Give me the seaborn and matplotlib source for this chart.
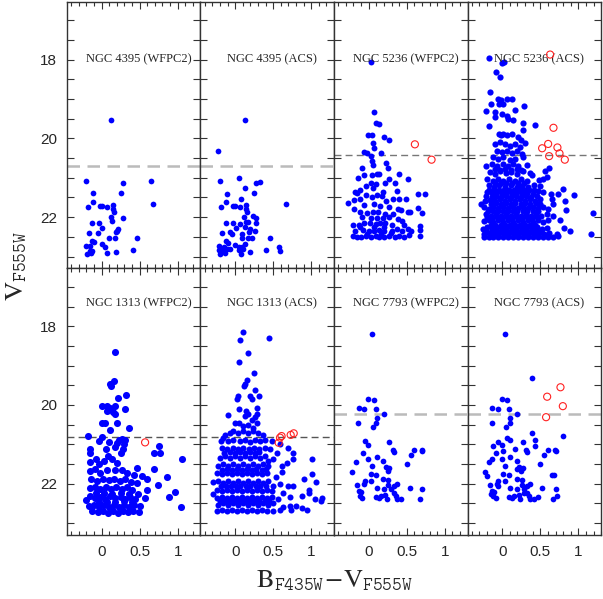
import matplotlib
matplotlib.use("Agg")
import matplotlib.pyplot as plt
import seaborn as sns
from matplotlib.ticker import MultipleLocator, FuncFormatter

# ---------------- data (color B-V, magnitude V) ----------------
n4395_wfpc2_x = [0.129, -0.20, 0.65, 0.28, -0.108, 0.256, -0.117, 0.677, -0.178, -0.025, 0.0, 0.076, 0.155,
                 0.155, 0.16, 0.129, 0.28, 0.134, -0.12, -0.033, 0.01, -0.165, -0.05, 0.208, 0.22, 0.19, 0.094,
                 0.173, 0.46, -0.13, -0.095, 0.0, 0.046, -0.21, -0.147, -0.155, -0.12, -0.19, -0.138, 0.076,
                 0.195, 0.41]
n4395_wfpc2_y = [19.54, 21.08, 21.07, 21.13, 21.39, 21.39, 21.62, 21.66, 21.75, 21.72, 21.71, 21.74, 21.69,
                 21.79, 21.86, 21.99, 22.03, 22.11, 22.14, 22.15, 22.27, 22.40, 22.41, 22.34, 22.31, 22.38, 22.53,
                 22.54, 22.53, 22.60, 22.64, 22.69, 22.76, 22.73, 22.74, 22.85, 22.86, 22.93, 22.91, 22.92,
                 22.89, 22.84]

n4395_acs_x = [0.125, -0.22, -0.204, 0.054, 0.129, 0.278, 0.326, -0.108, 0.072, 0.252, -0.117, -0.187, -0.025,
               -0.003, 0.068, 0.146, 0.146, 0.151, 0.668, 0.23, 0.275, 0.12, 0.137, 0.173, -0.125, -0.03, 0.278,
               0.01, 0.068, 0.125, 0.2, 0.26, 0.186, -0.174, -0.064, -0.037, 0.09, 0.085, 0.169, 0.225, 0.46,
               -0.125, -0.095, 0.133, 0.002, 0.05, 0.09, -0.21, -0.143, -0.218, -0.187, -0.147, -0.112, -0.068,
               -0.2, -0.134, 0.072, 0.19, 0.40, 0.57, 0.59, 0.107, 0.055]
n4395_acs_y = [19.54, 20.33, 21.08, 21.0, 21.25, 21.13, 21.10, 21.40, 21.53, 21.39, 21.62, 21.75, 21.71,
               21.71, 21.75, 21.70, 21.80, 21.88, 21.66, 21.97, 22.03, 22.0, 22.13, 22.13, 22.15, 22.15, 22.14,
               22.27, 22.17, 22.26, 22.29, 22.34, 22.38, 22.40, 22.38, 22.42, 22.42, 22.54, 22.54, 22.54, 22.53,
               22.61, 22.66, 22.69, 22.71, 22.75, 22.77, 22.74, 22.75, 22.84, 22.83, 22.86, 22.82, 22.81,
               22.93, 22.91, 22.93, 22.89, 22.84, 22.76, 22.86, 22.82, 22.83]

n5236_wfpc2_x = [0.024, 0.076, 0.09, 0.14, -0.007, 0.046, 0.2, 0.27, 0.059, 0.072, -0.06, -0.02, 0.16, 0.028,
                 0.046, 0.055, -0.086, 0.234, 0.26, 0.396, 0.51, -0.143, -0.064, 0.037, 0.11, 0.14, 0.27, -0.033,
                 0.024, 0.094, 0.217, 0.35, -0.174, -0.152, -0.108, 0.059, 0.186, 0.18, 0.375, 0.65, 0.74,
                 -0.275, -0.196, -0.117, -0.03, 0.05, 0.11, 0.234, 0.313, 0.4, 0.49, -0.19, -0.064, 0.068, 0.155,
                 0.27, 0.38, 0.43, 0.65, 0.70, 0.51, 0.54, -0.117, -0.02, 0.063, 0.12, 0.22, 0.32, -0.086, 0.024,
                 0.11, 0.19, 0.27, 0.38, 0.44, -0.21, -0.13, -0.056, 0.015, 0.09, 0.146, 0.22, 0.31, 0.46, 0.67,
                 0.67, -0.18, -0.073, 0.0, 0.068, 0.138, 0.2, 0.31, 0.44, 0.52, 0.55, -0.205, -0.16, -0.1, -0.04,
                 0.024, 0.09, 0.134, 0.2, 0.265, 0.34, 0.4, 0.47, 0.53, 0.67, -0.02, 0.16, 0.29, -0.117, 0.2,
                 0.068, 0.375]
n5236_wfpc2_y = [18.07, 19.34, 19.61, 19.64, 19.92, 19.92, 19.97, 20.03, 20.12, 20.25, 20.35, 20.36, 20.38,
                 20.45, 20.57, 20.67, 20.75, 20.62, 20.75, 20.91, 21.03, 21.01, 20.92, 20.93, 20.90, 20.90, 21.02,
                 21.21, 21.14, 21.15, 21.14, 21.14, 21.35, 21.38, 21.31, 21.25, 21.36, 21.47, 21.34, 21.42, 21.42,
                 21.65, 21.57, 21.55, 21.43, 21.49, 21.43, 21.58, 21.53, 21.54, 21.55, 21.78, 21.69, 21.66, 21.72,
                 21.75, 21.80, 21.81, 21.76, 21.89, 21.86, 21.86, 21.86, 21.90, 21.88, 21.88, 21.92, 21.92, 22.0,
                 22.03, 22.03, 22.02, 22.0, 22.04, 22.09, 22.2, 22.2, 22.15, 22.14, 22.18, 22.14, 22.16, 22.19,
                 22.19, 22.23, 22.32, 22.36, 22.32, 22.34, 22.34, 22.32, 22.36, 22.34, 22.36, 22.31, 22.36,
                 22.49, 22.51, 22.50, 22.47, 22.51, 22.47, 22.51, 22.50, 22.47, 22.50, 22.47, 22.51, 22.46,
                 22.49, 22.42, 22.42, 22.41, 22.25, 22.25, 22.25, 22.29]
n5236_wfpc2_red_x = [0.607, 0.826]
n5236_wfpc2_red_y = [20.15, 20.54]

n5236_acs_x = [-0.178, 0.028, 0.002, -0.077, -0.029, -0.165, -0.147, -0.22, -0.05, -0.016, -0.037, 0.011, 0.059,
               0.125, -0.099, -0.099, 0.002, 0.059, 0.168, 0.287, -0.178, 0.08, 0.137, 0.279, 0.279, 0.43,
               -0.04, -0.02, 0.015, 0.059, 0.125, 0.212, 0.25, -0.095, -0.03, 0.037, 0.1, 0.168, 0.234, 0.295,
               -0.073, -0.007, 0.059, 0.125, 0.19, 0.256, -0.117, -0.05, 0.015, 0.1, 0.168, 0.277,
               -0.22, -0.138, -0.073, 0.006, 0.081, 0.146, 0.212, 0.32, 0.616, 0.563,
               -0.16, -0.095, -0.029, 0.045, 0.111, 0.19, 0.277, 0.366, 0.39,
               -0.204, -0.125, -0.06, 0.015, 0.09, 0.168, 0.243, 0.32, 0.489, 0.54, 0.585,
               -0.18, -0.108, -0.038, 0.037, 0.111, 0.19, 0.265, 0.344, 0.418, 0.497,
               -0.204, -0.138, -0.073, -0.007, 0.059, 0.125, 0.19, 0.256, 0.33, 0.41, 0.475, 0.54, 0.638, 0.73,
               0.804, 0.945,
               -0.279, -0.226, -0.16, -0.095, -0.029, 0.037, 0.103, 0.168, 0.234, 0.3, 0.366, 0.43, 0.497, 0.65,
               0.826,
               -0.24, -0.18, -0.117, -0.05, 0.015, 0.081, 0.146, 0.212, 0.278, 0.344, 0.41, 0.475, 0.54, 0.607,
               0.664, 0.84, 1.186,
               -0.213, -0.152, -0.086, -0.02, 0.046, 0.111, 0.177, 0.243, 0.309, 0.375, 0.44, 0.506, 0.585,
               0.673, 0.76,
               -0.244, -0.18, -0.117, -0.05, 0.015, 0.081, 0.146, 0.212, 0.278, 0.344, 0.41, 0.475, 0.54, 0.607,
               -0.257, -0.204, -0.138, -0.073, -0.007, 0.059, 0.125, 0.19, 0.256, 0.32, 0.388, 0.454, 0.52,
               0.585, 0.817, 0.89,
               -0.24, -0.174, -0.108, -0.042, 0.024, 0.09, 0.155, 0.221, 0.287, 0.353, 0.418, 0.484, 0.55, 0.62,
               0.717,
               -0.24, -0.18, -0.117, -0.05, 0.015, 0.081, 0.146, 0.212, 0.278, 0.344, 0.41, 0.475, 0.54, 0.607,
               0.664, 0.739, 1.16]
n5236_acs_y = [17.97, 18.06, 18.09, 18.32, 18.44, 18.82, 19.12, 19.31, 18.99, 19.03, 19.12, 19.12, 19.01,
               19.0, 19.34, 19.46, 19.39, 19.42, 19.29, 19.17, 19.69, 19.51, 19.54, 19.60, 19.78, 19.67,
               19.88, 19.92, 19.88, 19.92, 19.88, 19.97, 20.03, 20.14, 20.09, 20.14, 20.18, 20.15, 20.22, 20.12,
               20.31, 20.35, 20.32, 20.37, 20.31, 20.39, 20.47, 20.52, 20.47, 20.54, 20.52, 20.47,
               20.71, 20.64, 20.69, 20.66, 20.71, 20.64, 20.70, 20.67, 20.75, 20.83,
               20.86, 20.90, 20.83, 20.88, 20.86, 20.90, 20.83, 20.88, 20.92,
               21.02, 21.07, 21.02, 21.07, 21.02, 21.07, 21.02, 21.07, 21.05, 21.02, 20.98,
               21.19, 21.24, 21.19, 21.24, 21.19, 21.24, 21.20, 21.24, 21.19, 21.20,
               21.36, 21.39, 21.36, 21.41, 21.36, 21.41, 21.36, 21.41, 21.38, 21.41, 21.34, 21.36, 21.42, 21.42,
               21.28, 21.44,
               21.66, 21.58, 21.56, 21.58, 21.54, 21.58, 21.55, 21.58, 21.54, 21.58, 21.55, 21.58, 21.55, 21.53,
               21.58,
               21.75, 21.79, 21.73, 21.76, 21.73, 21.77, 21.73, 21.77, 21.73, 21.76, 21.73, 21.76, 21.73, 21.79,
               21.66, 21.81, 21.89,
               21.92, 21.96, 21.92, 21.96, 21.92, 21.96, 21.92, 21.96, 21.92, 21.96, 21.92, 21.96, 21.92,
               21.96, 22.08,
               22.10, 22.08, 22.13, 22.08, 22.13, 22.08, 22.13, 22.08, 22.13, 22.08, 22.13, 22.08, 22.13, 22.08,
               22.31, 22.26, 22.30, 22.26, 22.30, 22.26, 22.30, 22.26, 22.30, 22.26, 22.30, 22.26, 22.30,
               22.27, 22.28, 22.36,
               22.42, 22.41, 22.44, 22.41, 22.44, 22.41, 22.44, 22.41, 22.44, 22.41, 22.44, 22.41, 22.44, 22.39,
               22.42,
               22.51, 22.51, 22.51, 22.51, 22.51, 22.51, 22.51, 22.51, 22.51, 22.51, 22.51, 22.51, 22.51, 22.51,
               22.51, 22.47, 22.42]
# extra stars filling the crowded core of the NGC 5236 (ACS) diagram
n5236_acs_core_x = [-0.21, -0.14, -0.08, -0.01, 0.05, 0.12, 0.18, 0.25, 0.31, 0.38, 0.45,
                    -0.15, -0.08, -0.02, 0.05, 0.11, 0.17, 0.24, 0.30, 0.37, 0.44, 0.50,
                    -0.19, -0.12, -0.06, 0.01, 0.07, 0.14, 0.20, 0.27, 0.33, 0.40, 0.47,
                    -0.15, -0.09, -0.02, 0.04, 0.10, 0.17, 0.23, 0.30, 0.36, 0.43,
                    -0.17, -0.11, -0.04, 0.02, 0.09, 0.15, 0.22, 0.28, 0.35, 0.42,
                    -0.20, -0.13, -0.07, 0.00, 0.06, 0.13, 0.19, 0.26, 0.32, 0.39, 0.45,
                    -0.21, -0.14, -0.08, -0.01, 0.05, 0.12, 0.18, 0.25, 0.31, 0.38, 0.44, 0.51,
                    -0.09, -0.02, 0.05, 0.13, 0.21, 0.28,
                    -0.10, -0.03, 0.04, 0.12, 0.19, 0.25]
n5236_acs_core_y = [21.47, 21.48, 21.47, 21.48, 21.47, 21.48, 21.47, 21.48, 21.47, 21.48, 21.47,
                    21.66, 21.65, 21.66, 21.65, 21.66, 21.65, 21.66, 21.65, 21.66, 21.65, 21.66,
                    21.85, 21.84, 21.85, 21.84, 21.85, 21.84, 21.85, 21.84, 21.85, 21.84, 21.85,
                    22.20, 22.19, 22.20, 22.19, 22.20, 22.19, 22.20, 22.19, 22.20, 22.19,
                    21.30, 21.31, 21.30, 21.31, 21.30, 21.31, 21.30, 21.31, 21.30, 21.31,
                    22.00, 22.01, 22.00, 22.01, 22.00, 22.01, 22.00, 22.01, 22.00, 22.01, 22.00,
                    22.35, 22.36, 22.35, 22.36, 22.35, 22.36, 22.35, 22.36, 22.35, 22.36, 22.35, 22.36,
                    21.12, 21.13, 21.12, 21.13, 21.12, 21.13,
                    20.78, 20.79, 20.78, 20.79, 20.78, 20.79]
n5236_acs_red_x = [0.629, 0.673, 0.524, 0.603, 0.725, 0.616, 0.752, 0.822]
n5236_acs_red_y = [17.87, 19.73, 20.25, 20.14, 20.23, 20.45, 20.38, 20.54]

n1313_wfpc2_x = [0.173, 0.164, 0.129, 0.116, 0.212, 0.32, 0.0, 0.072, 0.107, 0.177, 0.15, 0.173, 0.31, 0.072,
                 0.0, 0.04, 0.204, 0.357, 0.107, -0.182, 0.0, -0.037, 0.094, 0.204, 0.226, 0.27, 0.313, 0.3,
                 0.283, 0.18, 0.25, -0.147, 0.063, -0.147, 0.752, 0.686, 0.774, 1.06, 0.686, 0.466, -0.147,
                 -0.068, -0.033, 0.028, 0.138, 0.204, 0.081, -0.156, -0.081, -0.016, 0.072, 0.182, 0.27, 0.335,
                 0.423, 0.532, 0.6, 0.86, 0.6, 0.74, -0.134, -0.06, 0.02, 0.094, 0.16, 0.239, 0.313, 0.388,
                 0.466, -0.156, -0.09, -0.016, 0.054, 0.125, 0.195, 0.265, 0.335, 0.405, 0.475, 0.576, 0.89,
                 0.96, 1.046, -0.21, -0.147, -0.081, -0.016, 0.05, 0.116, 0.18, 0.25, 0.313, 0.38, 0.445, -0.17,
                 -0.103, -0.037, 0.028, 0.094, 0.16, 0.226, 0.29, 0.357, 0.423, 0.51, -0.125, -0.05, 0.02, 0.08,
                 0.15, 0.212, 0.283, 0.35, 0.414, 0.49, -0.068, 0.028, 0.138, 0.25, 0.357, -0.037, 0.072, 0.18,
                 0.29, 0.4]
n1313_wfpc2_y = [18.66, 19.38, 19.51, 19.47, 19.82, 19.75, 20.03, 20.03, 20.07, 20.03, 20.17, 20.24, 20.10,
                 20.16, 20.47, 20.45, 20.47, 20.58, 20.64, 20.78, 20.82, 20.92, 20.94, 20.96, 20.88, 20.86,
                 20.88, 21.0, 21.13, 21.06, 21.21, 21.13, 21.13, 21.21, 21.03, 21.21, 21.23, 21.36, 21.62,
                 21.60, 21.45, 21.38, 21.49, 21.43, 21.38, 21.47, 21.30, 21.68, 21.62, 21.72, 21.64, 21.65,
                 21.64, 21.72, 21.79, 21.81, 21.87, 21.82, 22.15, 22.04, 21.89, 21.93, 21.87, 21.91, 21.89,
                 21.93, 21.89, 21.96, 21.99, 22.10, 22.08, 22.13, 22.09, 22.13, 22.09, 22.13, 22.09, 22.15,
                 22.27, 22.36, 22.33, 22.21, 22.59, 22.42, 22.31, 22.36, 22.33, 22.38, 22.31, 22.37, 22.33,
                 22.38, 22.33, 22.40, 22.57, 22.53, 22.59, 22.55, 22.59, 22.54, 22.59, 22.55, 22.59, 22.54,
                 22.57, 22.70, 22.72, 22.70, 22.74, 22.70, 22.74, 22.70, 22.72, 22.70, 22.72, 22.23, 22.23,
                 22.27, 22.23, 22.25, 22.46, 22.47, 22.47, 22.44, 22.47]
n1313_wfpc2_red_x = [0.572]
n1313_wfpc2_red_y = [20.95]

n1313_acs_x = [0.098, 0.44, 0.063, 0.164, 0.046, 0.247, 0.129, 0.12, 0.16, 0.26, 0.318, 0.04, 0.195, 0.217, 0.03,
               0.054, 0.138, 0.164, 0.287, 0.283, -0.1, 0.13, 0.26, 0.22, 0.0, 0.046, 0.173, 0.24, 0.107, 0.283,
               -0.134, -0.068, -0.024, 0.04, 0.107, 0.173, 0.24, 0.305, 0.37,
               -0.156, -0.19, -0.09, -0.024, 0.063, 0.129, 0.195, 0.26, 0.327, 0.39, 0.48, 0.59, 0.546, 0.7,
               0.765, 0.757, 0.686, 0.502,
               -0.178, -0.103, -0.033, 0.037, 0.107, 0.177, 0.247, 0.318, 0.388, 0.458,
               -0.2, -0.134, -0.068, 0.0, 0.063, 0.129, 0.195, 0.26, 0.327, 0.392, 0.436, 1.006,
               -0.222, -0.156, -0.09, -0.024, 0.04, 0.107, 0.173, 0.24, 0.305, 0.37, 0.436, 0.61, 0.61,
               -0.244, -0.178, -0.112, -0.046, 0.02, 0.085, 0.15, 0.217, 0.283, 0.348, 0.414, 0.537, 1.006,
               0.905, 1.06,
               -0.288, -0.222, -0.156, -0.09, -0.024, 0.04, 0.107, 0.173, 0.24, 0.305, 0.37, 0.436, 0.502, 0.59,
               0.7, 0.765, 0.97,
               -0.288, -0.244, -0.178, -0.112, -0.046, 0.02, 0.085, 0.15, 0.217, 0.283, 0.348, 0.414, 0.48,
               0.634, 0.72, 0.875, 0.97,
               -0.244, -0.178, -0.112, -0.046, 0.02, 0.085, 0.15, 0.217, 0.283, 0.348, 0.414, 0.48, 0.568,
               1.05, 1.14, 1.13,
               -0.222, -0.156, -0.09, -0.024, 0.04, 0.107, 0.173, 0.24, 0.305, 0.37, 0.436, 0.502, 0.634, 0.72,
               0.795, 0.875, 0.94,
               -0.244, -0.178, -0.112, -0.046, 0.02, 0.085, 0.15, 0.217, 0.283, 0.348, 0.414, 0.502, 0.59,
               0.74]
n1313_acs_y = [18.15, 18.31, 18.36, 18.68, 18.92, 19.18, 19.46, 19.52, 19.37, 19.61, 19.76, 19.78, 19.78,
               19.86, 19.84, 20.10, 20.16, 20.22, 20.07, 20.22, 20.25, 20.28, 20.30, 20.37, 20.47, 20.47,
               20.50, 20.58, 20.54, 20.45,
               20.75, 20.71, 20.66, 20.71, 20.66, 20.71, 20.66, 20.71, 20.75,
               20.83, 20.92, 20.92, 20.88, 20.92, 20.88, 20.94, 20.88, 20.92, 20.88, 20.92, 21.0, 21.21, 21.09,
               21.21, 21.38, 21.47, 21.38,
               21.09, 21.13, 21.09, 21.13, 21.09, 21.13, 21.09, 21.13, 21.09, 21.13,
               21.34, 21.30, 21.34, 21.30, 21.34, 21.30, 21.34, 21.30, 21.34, 21.30, 21.43, 21.37,
               21.55, 21.51, 21.55, 21.51, 21.55, 21.51, 21.55, 21.51, 21.55, 21.51, 21.55, 21.54, 21.71,
               21.72, 21.76, 21.72, 21.76, 21.72, 21.76, 21.72, 21.76, 21.72, 21.76, 21.72, 21.82, 21.76,
               21.87, 21.95,
               21.96, 21.93, 21.98, 21.93, 21.98, 21.93, 21.98, 21.93, 21.98, 21.93, 21.98, 21.93, 22.06, 22.0,
               22.06, 22.06, 22.15,
               22.27, 22.15, 22.19, 22.15, 22.19, 22.15, 22.19, 22.15, 22.19, 22.15, 22.19, 22.15, 22.19,
               22.23, 22.33, 22.31, 22.23,
               22.36, 22.33, 22.37, 22.33, 22.37, 22.33, 22.37, 22.33, 22.37, 22.33, 22.37, 22.33, 22.40,
               22.40, 22.37, 22.45,
               22.53, 22.50, 22.54, 22.50, 22.54, 22.50, 22.54, 22.50, 22.54, 22.50, 22.54, 22.50, 22.59, 22.57,
               22.57, 22.61, 22.67,
               22.70, 22.67, 22.70, 22.67, 22.70, 22.67, 22.70, 22.67, 22.70, 22.67, 22.70, 22.70, 22.67,
               22.67]
# extra stars filling the crowded core of the NGC 1313 (ACS) diagram
n1313_acs_core_x = [-0.20, -0.13, -0.07, 0.00, 0.06, 0.13, 0.19, 0.26, 0.32, 0.39, 0.45,
                    -0.19, -0.12, -0.06, 0.01, 0.07, 0.14, 0.20, 0.27, 0.33, 0.40,
                    -0.17, -0.11, -0.04, 0.02, 0.09, 0.15, 0.22, 0.28, 0.35, 0.41,
                    -0.14, -0.07, 0.00, 0.06, 0.13, 0.19, 0.26, 0.32]
n1313_acs_core_y = [22.45, 22.44, 22.45, 22.44, 22.45, 22.44, 22.45, 22.44, 22.45, 22.44, 22.45,
                    22.07, 22.06, 22.07, 22.06, 22.07, 22.06, 22.07, 22.06, 22.07, 22.06,
                    21.64, 21.63, 21.64, 21.63, 21.64, 21.63, 21.64, 21.63, 21.64, 21.63,
                    21.21, 21.20, 21.21, 21.20, 21.21, 21.20, 21.21, 21.20]
n1313_acs_red_x = [0.572, 0.61, 0.59, 0.73, 0.77]
n1313_acs_red_y = [20.96, 20.79, 20.83, 20.76, 20.72]

n7793_wfpc2_x = [0.037, -0.003, 0.072, -0.125, -0.06, 0.09, 0.2, 0.107, 0.1, -0.134, 0.055, -0.047, -0.003, 0.27,
                 0.313, 0.326, -0.077, -0.003, 0.11, -0.17, -0.22, 0.04, 0.19, 0.23, 0.27, 0.25, 0.024, 0.098,
                 0.6, 0.55, 0.506, 0.695, 0.7, -0.05, -0.064, 0.032, 0.19, 0.26, -0.152, 0.26, 0.287, 0.33,
                 0.366, 0.103, -0.13, -0.1, -0.117, -0.082, 0.094, 0.133, 0.164, 0.22, 0.243, 0.33, 0.353,
                 0.375, 0.427, 0.537, 0.7, 0.673, 0.2]
n7793_wfpc2_y = [18.20, 19.84, 19.88, 20.08, 20.11, 20.09, 20.22, 20.34, 20.45, 20.45, 20.55, 20.92, 21.01,
                 20.94, 21.15, 21.20, 21.21, 21.36, 21.32, 21.46, 21.70, 21.54, 21.43, 21.58, 21.60, 21.68,
                 21.76, 21.77, 21.15, 21.27, 21.49, 21.15, 21.17, 21.92, 22.0, 21.94, 21.88, 21.90, 22.03, 22.02,
                 22.13, 22.06, 22.0, 22.11, 22.18, 22.20, 22.30, 22.37, 22.34, 22.36, 22.31, 22.28, 22.39, 22.23,
                 22.31, 22.38, 22.38, 22.11, 22.13, 22.40, 22.14]

n7793_acs_x = [0.032, 0.388, -0.007, 0.068, -0.13, -0.06, 0.09, 0.2, 0.103, 0.103, -0.139, 0.05, 0.392, 0.427,
               0.804, -0.05, -0.007, 0.27, 0.436, -0.117, 0.103, 0.059, 0.313, 0.326, -0.082, -0.007, 0.107,
               0.168, -0.17, -0.226, 0.037, 0.19, 0.226, 0.27, 0.248, 0.015, 0.094, 0.603, 0.555, 0.497, 0.695,
               0.708, -0.055, -0.064, 0.032, 0.19, 0.26, -0.156, 0.265, 0.287, 0.33, 0.366, 0.098, -0.134,
               -0.103, -0.12, -0.086, 0.09, 0.13, 0.16, 0.217, 0.238, 0.326, 0.348, 0.37, 0.423, 0.475, 0.528,
               0.66, 0.677, 0.703, 0.716, 0.673, 0.19, 0.28, -0.15, -0.05, -0.2, -0.14, 0.015, 0.2]
n7793_acs_y = [18.20, 19.31, 19.84, 19.88, 20.08, 20.11, 20.10, 20.22, 20.34, 20.45, 20.45, 20.56, 20.72, 20.90,
               20.80, 20.93, 21.01, 20.94, 21.04, 21.03, 20.88, 20.83, 21.15, 21.20, 21.21, 21.36, 21.32, 21.11,
               21.46, 21.71, 21.54, 21.43, 21.58, 21.60, 21.68, 21.76, 21.77, 21.15, 21.27, 21.49, 21.15,
               21.17, 21.92, 22.0, 21.94, 21.88, 21.90, 22.03, 22.02, 22.13, 22.06, 22.0, 22.11, 22.18, 22.20,
               22.30, 22.37, 22.34, 22.36, 22.31, 22.28, 22.39, 22.23, 22.31, 22.38, 22.38, 22.33, 22.12,
               21.79, 21.79, 22.13, 22.30, 22.40, 22.14, 22.23, 22.27, 22.07, 21.81, 21.38, 21.17, 21.63]
n7793_acs_red_x = [0.59, 0.765, 0.796, 0.576]
n7793_acs_red_y = [19.79, 19.55, 20.03, 20.31]

panel_titles = ["NGC 4395 (WFPC2)", "NGC 4395 (ACS)", "NGC 5236 (WFPC2)", "NGC 5236 (ACS)",
                "NGC 1313 (WFPC2)", "NGC 1313 (ACS)", "NGC 7793 (WFPC2)", "NGC 7793 (ACS)"]
limit_mags = [20.70, 20.70, 20.43, 20.43, 20.82, 20.82, 20.22, 20.22]
ytick_labels = ["18", "20", "22"]
xtick_labels = ["0", "0.5", "1"]

blue_x = [n4395_wfpc2_x, n4395_acs_x, n5236_wfpc2_x, n5236_acs_x + n5236_acs_core_x,
          n1313_wfpc2_x, n1313_acs_x + n1313_acs_core_x, n7793_wfpc2_x, n7793_acs_x]
blue_y = [n4395_wfpc2_y, n4395_acs_y, n5236_wfpc2_y, n5236_acs_y + n5236_acs_core_y,
          n1313_wfpc2_y, n1313_acs_y + n1313_acs_core_y, n7793_wfpc2_y, n7793_acs_y]
red_x = [[], [], n5236_wfpc2_red_x, n5236_acs_red_x, n1313_wfpc2_red_x, n1313_acs_red_x, [], n7793_acs_red_x]
red_y = [[], [], n5236_wfpc2_red_y, n5236_acs_red_y, n1313_wfpc2_red_y, n1313_acs_red_y, [], n7793_acs_red_y]

# ---------------- styling ----------------
sns.set_style("ticks")
plt.rcParams['font.family'] = ['Liberation Sans', 'DejaVu Sans']
plt.rcParams['mathtext.fontset'] = 'stix'

dot_sizes = [17, 17, 18, 20, 26, 19, 17, 17]
line_styles = [("#bbbbbb", 1.8), ("#bbbbbb", 1.8), ("#777777", 1.0), ("#777777", 1.0),
               ("#555555", 1.0), ("#555555", 1.0), ("#bbbbbb", 1.8), ("#bbbbbb", 1.8)]

fig, axes = plt.subplots(2, 4, figsize=(6.03, 5.99), dpi=100, sharex=True, sharey=True)
fig.subplots_adjust(left=0.111, right=0.997, bottom=0.107, top=0.997, wspace=0, hspace=0)

def yfmt(v, pos):
    s = "%g" % v
    return s if s in ytick_labels else ""

def xfmt(v, pos):
    s = "%g" % v
    return s if s in xtick_labels else ""

for i, ax in enumerate(axes.flat):
    sns.scatterplot(x=blue_x[i], y=blue_y[i], ax=ax, color="#0000ff", s=dot_sizes[i],
                    linewidth=0, zorder=3)
    if red_x[i]:
        sns.scatterplot(x=red_x[i], y=red_y[i], ax=ax, facecolor="none", edgecolor="#ff2020",
                        s=26, linewidth=0.8, zorder=4)
    c, lw = line_styles[i]
    ax.axhline(limit_mags[i], color=c, lw=lw, ls=(0, (5, 3)), zorder=2)
    row = i // 4
    ty = 0.785 if row == 0 else 0.868
    ax.text(0.535, ty, panel_titles[i], transform=ax.transAxes, ha="center", va="center",
            fontsize=9, family=["Liberation Serif", "DejaVu Serif"])
    ax.set_xlim(-0.455, 1.30)
    ax.set_ylim(23.30, 16.53)
    ax.xaxis.set_major_locator(MultipleLocator(0.5))
    ax.xaxis.set_minor_locator(MultipleLocator(0.1))
    ax.yaxis.set_major_locator(MultipleLocator(0.5))
    ax.xaxis.set_major_formatter(FuncFormatter(xfmt))
    ax.yaxis.set_major_formatter(FuncFormatter(yfmt))
    ax.tick_params(which="both", direction="in", top=True, right=True, bottom=True, left=True,
                   color="#333333", width=0.8)
    ax.tick_params(which="major", length=5, labelsize=11, pad=7)
    ax.tick_params(which="minor", length=3)
    for sp in ax.spines.values():
        sp.set_visible(True)
        sp.set_color("#333333")
        sp.set_linewidth(1.0)
    ax.set_xlabel("")
    ax.set_ylabel("")
    if i % 4 != 0:
        ax.tick_params(labelleft=False)
    if row == 0:
        ax.tick_params(labelbottom=False)

fig.text(0.028, 0.555, r"$\mathrm{V}_{\mathtt{F555W}}$", rotation=90, ha="center", va="center",
         fontsize=19)
fig.text(0.554, 0.030, r"$\mathrm{B}_{\mathtt{F435W}}\!-\!\mathrm{V}_{\mathtt{F555W}}$",
         ha="center", va="center", fontsize=19)

fig.savefig("out.png", dpi=100)
